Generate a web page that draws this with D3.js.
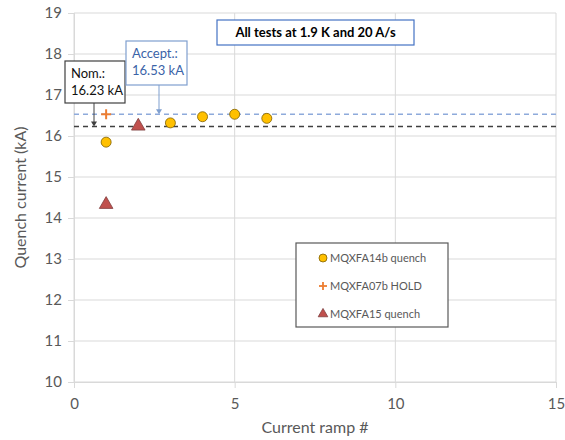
<!DOCTYPE html>
<html>
<head>
<meta charset="utf-8">
<script src="https://cdnjs.cloudflare.com/ajax/libs/d3/7.8.5/d3.min.js"></script>
<style>
  body { margin: 0; background: #fff; }
  svg { font-family: Lato, "Open Sans", sans-serif; }
</style>
</head>
<body>
<div id="chart"></div>
<script>
// Data
var a14bRamp = [1, 3, 4, 5, 6];
var a14bQuench = [15.85, 16.32, 16.47, 16.53, 16.43];
var a07bRamp = [1];
var a07bHold = [16.53];
var a15Ramp = [1, 2];
var a15Quench = [14.33, 16.24];
var nominal = 16.23;
var acceptance = 16.53;
var xTicks = [0, 5, 10, 15];
var yTicks = [10, 11, 12, 13, 14, 15, 16, 17, 18, 19];

var COLORS = {
  GRID: '#d9d9d9',
  TEXT: '#595959',
  GOLD: '#ffc000',
  ORANGE: '#ed7d31',
  RED: '#c0504d',
  BLUE_LINE: '#8eaadb',
  BLUE_TEXT: '#3a63a8',
  BLUE_BOX: '#4472c4',
  BLACK_LINE: '#404040'
};

var W = 565, H = 440;
var margin = {left: 74, right: 9, top: 13, bottom: 58};

var svg = d3.select('#chart').append('svg')
  .attr('width', W)
  .attr('height', H);

var x = d3.scaleLinear().domain([0, 15]).range([margin.left, W - margin.right]);
var y = d3.scaleLinear().domain([10, 19]).range([H - margin.bottom, margin.top]);

// Grid
svg.append('g')
  .selectAll('line')
  .data(yTicks)
  .join('line')
  .attr('x1', x(0)).attr('x2', x(15))
  .attr('y1', d => y(d)).attr('y2', d => y(d))
  .attr('stroke', COLORS.GRID).attr('stroke-width', 1);

svg.append('g')
  .selectAll('line')
  .data(xTicks)
  .join('line')
  .attr('x1', d => x(d)).attr('x2', d => x(d))
  .attr('y1', y(19)).attr('y2', y(10))
  .attr('stroke', COLORS.GRID).attr('stroke-width', 1);

// Axes
var yAxis = svg.append('g')
  .attr('transform', 'translate(' + x(0) + ',0)')
  .call(d3.axisLeft(y).tickValues(yTicks).tickSize(6).tickPadding(6));
var xAxis = svg.append('g')
  .attr('transform', 'translate(0,' + y(10) + ')')
  .call(d3.axisBottom(x).tickValues(xTicks).tickSize(6).tickPadding(10));

[xAxis, yAxis].forEach(function(ax) {
  ax.select('.domain').attr('stroke', COLORS.GRID);
  ax.selectAll('.tick line').attr('stroke', COLORS.GRID);
  ax.selectAll('.tick text')
    .attr('fill', COLORS.TEXT)
    .attr('font-size', '15px')
    .attr('font-family', 'Lato, "Open Sans", sans-serif');
});

// Axis titles
svg.append('text')
  .attr('transform', 'translate(26,' + ((y(10) + y(19)) / 2) + ') rotate(-90)')
  .attr('text-anchor', 'middle')
  .attr('font-size', '16px')
  .attr('fill', COLORS.TEXT)
  .text('Quench current (kA)');

svg.append('text')
  .attr('x', (x(0) + x(15)) / 2)
  .attr('y', 433)
  .attr('text-anchor', 'middle')
  .attr('font-size', '16px')
  .attr('fill', COLORS.TEXT)
  .text('Current ramp #');

// Reference lines
svg.append('line')
  .attr('x1', x(0)).attr('x2', x(15))
  .attr('y1', y(acceptance)).attr('y2', y(acceptance))
  .attr('stroke', COLORS.BLUE_LINE).attr('stroke-width', 1.5)
  .attr('stroke-dasharray', '5,4');

svg.append('line')
  .attr('x1', x(0)).attr('x2', x(15))
  .attr('y1', y(nominal)).attr('y2', y(nominal))
  .attr('stroke', COLORS.BLACK_LINE).attr('stroke-width', 1.5)
  .attr('stroke-dasharray', '5,4');

// Series
svg.append('g')
  .selectAll('circle')
  .data(a14bRamp)
  .join('circle')
  .attr('cx', d => x(d))
  .attr('cy', (d, i) => y(a14bQuench[i]))
  .attr('r', 5)
  .attr('fill', COLORS.GOLD)
  .attr('stroke', '#7f6000').attr('stroke-width', 0.8);

var tri = d3.symbol().type(d3.symbolTriangle).size(80);
svg.append('g')
  .selectAll('path')
  .data(a15Ramp)
  .join('path')
  .attr('transform', (d, i) => 'translate(' + x(d) + ',' + y(a15Quench[i]) + ')')
  .attr('d', tri)
  .attr('fill', COLORS.RED)
  .attr('stroke', '#7f3f3f').attr('stroke-width', 0.8);

svg.append('g')
  .selectAll('g')
  .data(a07bRamp)
  .join('g')
  .attr('transform', (d, i) => 'translate(' + x(d) + ',' + y(a07bHold[i]) + ')')
  .each(function() {
    var g = d3.select(this);
    g.append('line').attr('x1', -5).attr('x2', 5).attr('y1', 0).attr('y2', 0);
    g.append('line').attr('x1', 0).attr('x2', 0).attr('y1', -5).attr('y2', 5);
  })
  .selectAll('line')
  .attr('stroke', COLORS.ORANGE).attr('stroke-width', 2);

// Callout boxes
function callout(bx, by, bw, bh, lines, border, color, arrowX, arrowTo) {
  svg.append('line')
    .attr('x1', arrowX).attr('x2', arrowX)
    .attr('y1', by + bh).attr('y2', arrowTo - 4)
    .attr('stroke', border).attr('stroke-width', 1);
  svg.append('path')
    .attr('d', 'M' + (arrowX - 3) + ',' + (arrowTo - 5) + 'L' + (arrowX + 3) + ',' + (arrowTo - 5) + 'L' + arrowX + ',' + arrowTo + 'Z')
    .attr('fill', border);
  svg.append('rect')
    .attr('x', bx).attr('y', by).attr('width', bw).attr('height', bh)
    .attr('fill', '#fff').attr('stroke', border).attr('stroke-width', 1.2);
  lines.forEach(function(t, i) {
    svg.append('text')
      .attr('x', bx + 6).attr('y', by + 17 + i * 17)
      .attr('font-size', '13px')
      .attr('fill', color)
      .text(t);
  });
}

callout(65, 61, 60, 42, ['Nom.:', '16.23 kA'], '#404040', '#111', 94, y(nominal));
callout(126, 41, 61, 44, ['Accept.:', '16.53 kA'], '#7f9fcf', COLORS.BLUE_TEXT, 159, y(acceptance));

// Title box
svg.append('rect')
  .attr('x', 217).attr('y', 20).attr('width', 197).attr('height', 25)
  .attr('fill', '#fff').attr('stroke', COLORS.BLUE_BOX).attr('stroke-width', 1.2);
svg.append('text')
  .attr('x', 315.5).attr('y', 37)
  .attr('text-anchor', 'middle')
  .attr('font-size', '13px')
  .attr('font-weight', 'bold')
  .attr('fill', '#000')
  .text('All tests at 1.9 K and 20 A/s');

// Legend
var legendNames = ['MQXFA14b quench', 'MQXFA07b HOLD', 'MQXFA15 quench'];
var lg = svg.append('g').attr('transform', 'translate(296,243)');
lg.append('rect')
  .attr('width', 152).attr('height', 84)
  .attr('fill', '#fff').attr('stroke', '#595959').attr('stroke-width', 1.2);
legendNames.forEach(function(name, i) {
  var cy = 15 + i * 28;
  var item = lg.append('g').attr('transform', 'translate(27,' + cy + ')');
  if (i === 0) {
    item.append('circle').attr('r', 4).attr('fill', COLORS.GOLD)
      .attr('stroke', '#7f6000').attr('stroke-width', 0.8);
  } else if (i === 1) {
    item.append('line').attr('x1', -4).attr('x2', 4).attr('stroke', COLORS.ORANGE).attr('stroke-width', 1.8);
    item.append('line').attr('y1', -4).attr('y2', 4).attr('stroke', COLORS.ORANGE).attr('stroke-width', 1.8);
  } else {
    item.append('path').attr('d', d3.symbol().type(d3.symbolTriangle).size(40))
      .attr('fill', COLORS.RED).attr('stroke', '#7f3f3f').attr('stroke-width', 0.8);
  }
  item.append('text')
    .attr('x', 7).attr('y', 4)
    .attr('font-size', '11px')
    .attr('fill', COLORS.TEXT)
    .text(name);
});
</script>
</body>
</html>
